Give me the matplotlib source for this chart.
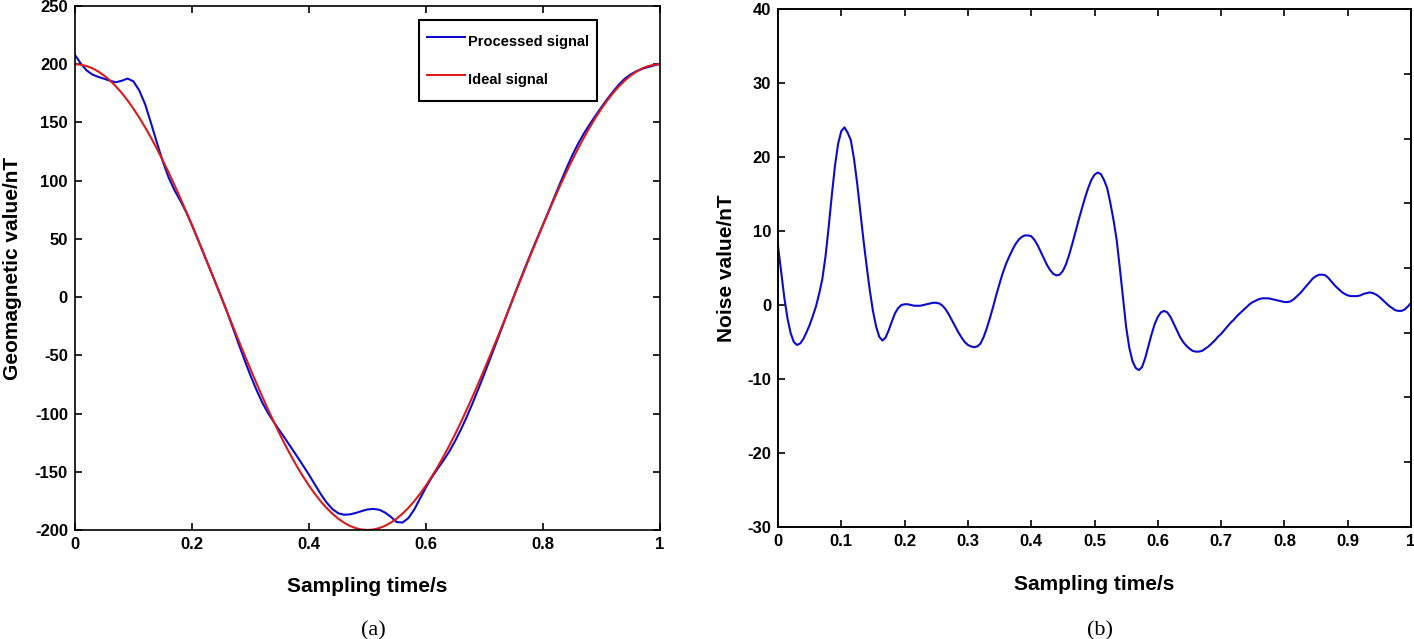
import numpy as np
import matplotlib
matplotlib.use('Agg')
import matplotlib.pyplot as plt

plt.rcParams['font.family'] = ['Liberation Sans', 'DejaVu Sans']
plt.rcParams['font.weight'] = 'bold'
plt.rcParams['axes.unicode_minus'] = False

# sampling grids (s)
t = np.linspace(0, 1, 101)
t_fine = np.linspace(0, 1, 201)

# ideal geomagnetic signal (nT), every 0.01 s
ideal = [200.0, 199.6, 198.4, 196.5, 193.7, 190.2, 186.0, 181.0, 175.3, 168.9,
         161.8, 154.1, 145.8, 136.9, 127.5, 117.6, 107.2, 96.4, 85.2, 73.6,
         61.8, 49.7, 37.5, 25.1, 12.6, 0.0, -12.6, -25.1, -37.5, -49.7,
         -61.8, -73.6, -85.2, -96.4, -107.2, -117.6, -127.5, -136.9, -145.8, -154.1,
         -161.8, -168.9, -175.3, -181.0, -186.0, -190.2, -193.7, -196.5, -198.4, -199.6,
         -200.0, -199.6, -198.4, -196.5, -193.7, -190.2, -186.0, -181.0, -175.3, -168.9,
         -161.8, -154.1, -145.8, -136.9, -127.5, -117.6, -107.2, -96.4, -85.2, -73.6,
         -61.8, -49.7, -37.5, -25.1, -12.6, 0.0, 12.6, 25.1, 37.5, 49.7,
         61.8, 73.6, 85.2, 96.4, 107.2, 117.6, 127.5, 136.9, 145.8, 154.1,
         161.8, 168.9, 175.3, 181.0, 186.0, 190.2, 193.7, 196.5, 198.4, 199.6,
         200.0]

# residual noise (nT), every 0.005 s
noise = [8.0, 4.5, 1.0, -1.8, -3.8, -5.0, -5.4, -5.2, -4.6, -3.7,
         -2.7, -1.5, -0.2, 1.5, 3.5, 6.5, 10.5, 14.8, 18.8, 21.8,
         23.5, 24.0, 23.3, 22.3, 19.8, 16.5, 12.6, 8.8, 5.3, 2.0,
         -0.8, -2.9, -4.3, -4.8, -4.4, -3.4, -2.2, -1.1, -0.4, 0.0,
         0.1, 0.1, 0.0, -0.1, -0.1, -0.1, 0.0, 0.1, 0.2, 0.3,
         0.3, 0.2, -0.1, -0.6, -1.3, -2.1, -2.9, -3.7, -4.4, -5.0,
         -5.4, -5.6, -5.7, -5.6, -5.2, -4.3, -3.1, -1.7, -0.2, 1.4,
         2.9, 4.3, 5.5, 6.5, 7.4, 8.2, 8.8, 9.2, 9.4, 9.4,
         9.3, 8.8, 8.1, 7.2, 6.3, 5.4, 4.7, 4.2, 4.0, 4.1,
         4.6, 5.5, 6.8, 8.3, 9.9, 11.5, 13.0, 14.5, 15.8, 16.9,
         17.6, 17.9, 17.7, 16.9, 15.8, 13.8, 11.5, 8.8, 5.0, 1.0,
         -3.0, -5.8, -7.6, -8.5, -8.8, -8.4, -7.2, -5.6, -4.0, -2.6,
         -1.6, -1.0, -0.8, -1.0, -1.6, -2.5, -3.4, -4.3, -5.0, -5.5,
         -5.9, -6.2, -6.3, -6.3, -6.2, -5.9, -5.6, -5.2, -4.8, -4.3,
         -3.9, -3.4, -2.9, -2.4, -2.0, -1.5, -1.1, -0.7, -0.3, 0.1,
         0.4, 0.6, 0.8, 0.9, 0.9, 0.9, 0.8, 0.7, 0.6, 0.5,
         0.4, 0.4, 0.5, 0.8, 1.2, 1.6, 2.1, 2.6, 3.1, 3.6,
         3.9, 4.1, 4.1, 4.0, 3.6, 3.1, 2.6, 2.2, 1.8, 1.5,
         1.3, 1.2, 1.2, 1.2, 1.3, 1.5, 1.6, 1.7, 1.6, 1.4,
         1.1, 0.7, 0.3, -0.1, -0.4, -0.7, -0.8, -0.8, -0.6, -0.2,
         0.3]

# processed signal = ideal + residual noise (on the 0.01 s grid)
processed = np.array(ideal) + np.array(noise)[::2]

blue = '#0b0bd0'
red = '#dd1a1a'

fig = plt.figure(figsize=(14.14, 6.39), dpi=100)
ax1 = fig.add_axes([0.053, 0.1706, 0.4137, 0.82])
ax2 = fig.add_axes([0.5502, 0.1753, 0.4477, 0.8106])


def style(ax):
    for s in ax.spines.values():
        s.set_linewidth(1.2)
        s.set_color('black')
    ax.tick_params(direction='in', length=5, width=1.2, top=True, right=True,
                   labelsize=12, pad=5)
    for lab in ax.get_xticklabels() + ax.get_yticklabels():
        lab.set_fontweight('bold')


# panel (a)
ax1.plot(t, processed, color=blue, lw=1.5, label='Processed signal')
ax1.plot(t, ideal, color=red, lw=1.5, label='Ideal signal')
ax1.set_xlim(0, 1)
ax1.set_ylim(-200, 250)
ax1.set_xticks([0, 0.2, 0.4, 0.6, 0.8, 1])
ax1.set_xticklabels(['0', '0.2', '0.4', '0.6', '0.8', '1'])
ax1.set_yticks(np.arange(-200, 251, 50))
style(ax1)
ax1.set_xlabel('Sampling time/s', fontsize=15, fontweight='bold', labelpad=18)
ax1.set_ylabel('Geomagnetic value/nT', fontsize=15, fontweight='bold', labelpad=9)
leg = ax1.legend(loc='upper right', bbox_to_anchor=(0.892, 0.973), borderaxespad=0,
                 fancybox=False, edgecolor='black', framealpha=1,
                 prop={'size': 10.5, 'weight': 'bold'},
                 handleheight=2.4, labelspacing=0.82, borderpad=0.54,
                 handlelength=2.6, handletextpad=0.2)
leg.get_frame().set_linewidth(1.5)

# panel (b)
ax2.plot(t_fine, noise, color=blue, lw=1.5)
ax2.set_xlim(0, 1)
ax2.set_ylim(-30, 40)
ax2.set_xticks(np.round(np.arange(0, 1.01, 0.1), 1))
ax2.set_xticklabels(['0', '0.1', '0.2', '0.3', '0.4', '0.5', '0.6', '0.7', '0.8', '0.9', '1'])
ax2.set_yticks(np.arange(-30, 41, 10))
style(ax2)
ax2.tick_params(right=False)
ax2.set_xlabel('Sampling time/s', fontsize=15, fontweight='bold', labelpad=19)
ax2.set_ylabel('Noise value/nT', fontsize=15, fontweight='bold', labelpad=8)

# right-hand ticks of panel (b) sit on a separate 8-step scale
ax2r = ax2.twinx()
ax2r.set_ylim(0, 8)
ax2r.set_yticks(range(9))
ax2r.set_yticklabels([])
ax2r.tick_params(direction='in', length=5, width=1.2)
for s in ax2r.spines.values():
    s.set_linewidth(1.2)

fig.text(0.2640, -0.002, '(a)', fontsize=16, family='Liberation Serif',
         fontweight='normal', ha='center', va='bottom')
fig.text(0.7780, -0.002, '(b)', fontsize=16, family='Liberation Serif',
         fontweight='normal', ha='center', va='bottom')

fig.savefig('out.png', dpi=100)
